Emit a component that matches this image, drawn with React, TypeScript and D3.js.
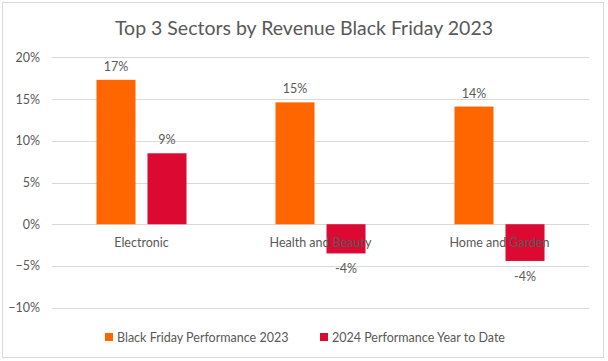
import React from "react";
import * as d3 from "d3";

const categories = ["Electronic", "Health and Beauty", "Home and Garden"];
const seriesNames = ["Black Friday Performance 2023", "2024 Performance Year to Date"];
const blackFriday2023 = [0.173, 0.146, 0.141];
const ytd2024 = [0.085, -0.035, -0.044];
const valueLabels2023 = ["17%", "15%", "14%"];
const valueLabels2024 = ["9%", "-4%", "-4%"];
const yTicks = [-0.1, -0.05, 0, 0.05, 0.1, 0.15, 0.2];
const title = "Top 3 Sectors by Revenue Black Friday 2023";

const W = 608;
const H = 361;
const colors = ["#FF6600", "#DC0A32"];
const textColor = "#595959";
const gridColor = "#D9D9D9";
const font = "Lato, 'Open Sans', sans-serif";

export default function App() {
  const x = d3.scaleBand<string>().domain(categories).range([52, 589]).paddingInner(0).paddingOuter(0);
  const xs = d3.scaleBand<string>().domain(seriesNames).range([0, x.bandwidth()]).paddingInner(0.235).paddingOuter(0.872);
  const y = d3.scaleLinear().domain([-0.1, 0.2]).range([307.7, 57.3]);
  const fmt = d3.format(".0%");
  const series = [
    { name: seriesNames[0], values: blackFriday2023, labels: valueLabels2023 },
    { name: seriesNames[1], values: ytd2024, labels: valueLabels2024 },
  ];

  return (
    <svg width={W} height={H} style={{ position: "absolute", left: 0, top: 0, background: "#fff" }} fontFamily={font}>
      <rect x={2.5} y={2.5} width={601} height={355} fill="#fff" stroke={gridColor} strokeWidth={1} />
      <text x={304} y={35} textAnchor="middle" fontSize={19.5} fill={textColor}>{title}</text>
      {yTicks.map((t) => (
        <g key={t}>
          <line x1={52} x2={589} y1={Math.round(y(t)) + 0.5} y2={Math.round(y(t)) + 0.5} stroke={gridColor} strokeWidth={1} />
          <text x={40} y={y(t) + 4.5} textAnchor="end" fontSize={12.5} fill={textColor}>{fmt(t)}</text>
        </g>
      ))}
      {series.map((s, si) =>
        categories.map((c, ci) => {
          const v = s.values[ci];
          const bx = (x(c) as number) + (xs(s.name) as number);
          const top = Math.min(y(v), y(0));
          const h = Math.abs(y(v) - y(0));
          const lx = bx + xs.bandwidth() / 2;
          const ly = v >= 0 ? y(v) - 9 : y(v) + 20;
          return (
            <g key={s.name + c}>
              <rect x={bx} y={top} width={xs.bandwidth()} height={h} fill={colors[si]} />
              <text x={lx} y={ly} textAnchor="middle" fontSize={12.5} fill={textColor}>{s.labels[ci]}</text>
            </g>
          );
        })
      )}
      {categories.map((c) => (
        <text key={c} x={(x(c) as number) + x.bandwidth() / 2} y={246.5} textAnchor="middle" fontSize={12.5} fill={textColor}>{c}</text>
      ))}
      {seriesNames.map((n, i) => {
        const lx0 = [105, 320][i];
        return (
          <g key={n}>
            <rect x={lx0} y={333} width={8} height={8} fill={colors[i]} />
            <text x={lx0 + 12} y={341.5} fontSize={12.5} fill={textColor}>{n}</text>
          </g>
        );
      })}
    </svg>
  );
}
